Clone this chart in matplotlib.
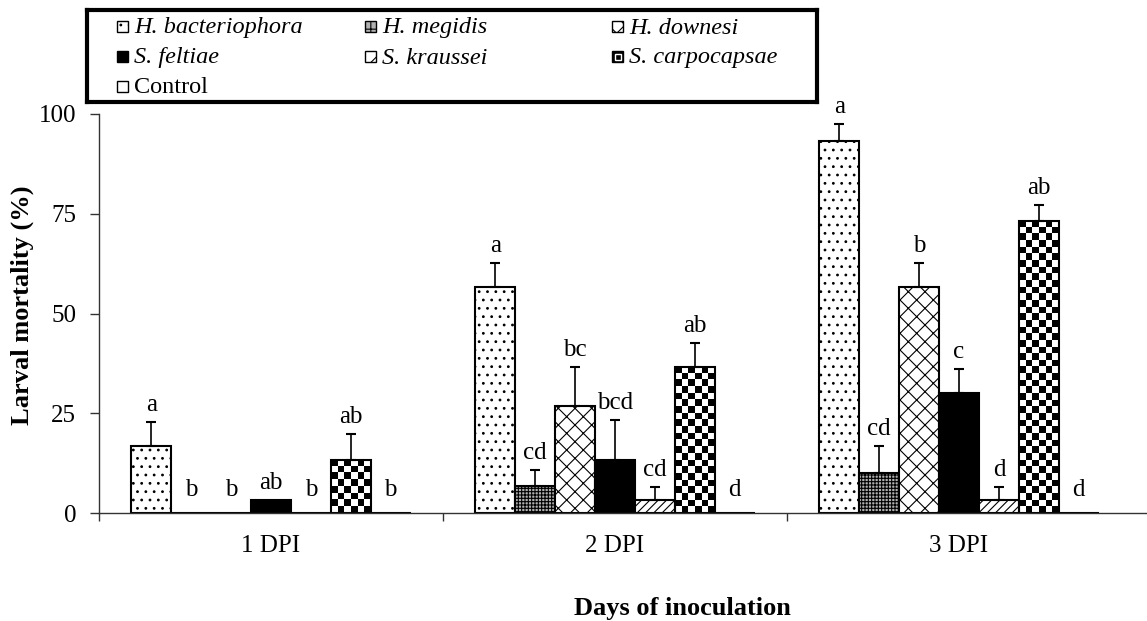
import numpy as np
import matplotlib.pyplot as plt
from matplotlib.patches import Rectangle

plt.rcParams['font.family'] = ['Liberation Serif', 'DejaVu Serif']
plt.rcParams['hatch.linewidth'] = 0.8

days = ['1 DPI', '2 DPI', '3 DPI']
names = ['H. bacteriophora', 'H. megidis', 'H. downesi', 'S. feltiae',
         'S. kraussei', 'S. carpocapsae', 'Control']

# mean mortality (%) per day
hbact = [16.7, 56.7, 93.3]
hmeg = [0.0, 6.7, 10.0]
hdown = [0.0, 26.7, 56.7]
sfelt = [3.3, 13.3, 30.0]
skrau = [0.0, 3.3, 3.3]
scarp = [13.3, 36.7, 73.3]
ctrl = [0.0, 0.0, 0.0]

# standard errors (upper only)
hbact_se = [6.0, 6.0, 4.2]
hmeg_se = [0.0, 4.0, 6.7]
hdown_se = [0.0, 10.0, 6.0]
sfelt_se = [0.0, 10.0, 6.0]
skrau_se = [0.0, 3.3, 3.3]
scarp_se = [6.5, 6.0, 4.0]
ctrl_se = [0.0, 0.0, 0.0]

# significance letters
hbact_lt = ['a', 'a', 'a']
hmeg_lt = ['b', 'cd', 'cd']
hdown_lt = ['b', 'bc', 'b']
sfelt_lt = ['ab', 'bcd', 'c']
skrau_lt = ['b', 'cd', 'd']
scarp_lt = ['ab', 'ab', 'ab']
ctrl_lt = ['b', 'd', 'd']

means = [hbact, hmeg, hdown, sfelt, skrau, scarp, ctrl]
ses = [hbact_se, hmeg_se, hdown_se, sfelt_se, skrau_se, scarp_se, ctrl_se]
letters = [hbact_lt, hmeg_lt, hdown_lt, sfelt_lt, skrau_lt, scarp_lt, ctrl_lt]

# fill styles: (facecolor, hatch, checkerboard)
styles = [('white', '..', False),
          ('#b0b0b0', '+++++', False),
          ('white', 'xx', False),
          ('black', None, False),
          ('white', '////', False),
          ('white', None, True),
          ('white', None, False)]

W, H = 1147, 621
fig = plt.figure(figsize=(W / 100, H / 100), dpi=100)
ax = fig.add_axes([99 / W, 1 - 513 / H, (W - 99) / W, 399 / H])
xmin, xmax = -0.5, -0.5 + (W - 99) / 344.0
ax.set_xlim(xmin, xmax)
ax.set_ylim(0, 100)
px_x = ax.bbox.width / (xmax - xmin)
px_y = ax.bbox.height / 100.0

bw = 0.116
x = np.arange(len(days))
sq = 6.7  # checker square, pixels

for j, (vals, err, lts, st) in enumerate(zip(means, ses, letters, styles)):
    pos = x + (j - 3) * bw
    face, hatch, check = st
    bars = ax.bar(pos, vals, bw, color='none' if check else face,
                  edgecolor='black', linewidth=1.5, hatch=hatch, zorder=2)
    if check:
        for b in bars:
            h = b.get_height()
            nc = max(1, int(round(b.get_width() * px_x / sq)))
            nr = max(1, int(round(h * px_y / sq)))
            board = (np.indices((nr, nc)).sum(axis=0) % 2).astype(float)
            ax.imshow(board, cmap='gray', vmin=0, vmax=1, aspect='auto',
                      interpolation='nearest', zorder=1.5,
                      extent=(b.get_x(), b.get_x() + b.get_width(), 0, h))
    err = np.array(err)
    vals = np.array(vals)
    m = err > 0
    if m.any():
        ax.errorbar(pos[m], vals[m], yerr=[np.zeros(m.sum()), err[m]],
                    fmt='none', ecolor='black', elinewidth=1.2, capsize=3.5,
                    capthick=1.5, zorder=3)
    for xi, v, e, lt in zip(pos, vals, err, lts):
        ax.text(xi, max(v + e + 1.5, 3.0), lt, ha='center', va='bottom',
                fontsize=18)

ax.set_xlim(xmin, xmax)
ax.set_ylim(0, 100)
ax.spines['top'].set_visible(False)
ax.spines['right'].set_visible(False)
for s in ('left', 'bottom'):
    ax.spines[s].set_linewidth(1.0)
    ax.spines[s].set_color('#333333')

ax.set_yticks([0, 25, 50, 75, 100])
ax.tick_params(axis='y', direction='out', length=6.5, width=1.0,
               labelsize=18, pad=10, color='#333333')
ax.set_xticks(x)
ax.set_xticklabels(days)
ax.set_xticks(np.arange(len(days)) - 0.5, minor=True)
ax.tick_params(axis='x', which='major', length=0, labelsize=18, pad=16)
ax.tick_params(axis='x', which='minor', direction='out', length=6,
               width=1.0, color='#333333')

fig.text(22 / W, 1 - 305 / H, 'Larval mortality (%)', rotation=90,
         ha='center', va='center', fontsize=19, fontweight='bold')
fig.text(682 / W, 1 - 608 / H, 'Days of inoculation', ha='center',
         va='center', fontsize=19, fontweight='bold')

# legend box
lax = fig.add_axes([87 / W, 1 - 102 / H, 730 / W, 92 / H])
lax.set_xlim(0, 730)
lax.set_ylim(92, 0)
lax.set_xticks([])
lax.set_yticks([])
for s in lax.spines.values():
    s.set_linewidth(3)
    s.set_color('black')

col_x = [30, 278, 525]
row_y = [16.5, 46.5, 76]
hs = 11
for j, (name, st) in enumerate(zip(names, styles)):
    cx = col_x[j % 3]
    cy = row_y[j // 3]
    face, hatch, check = st
    if check:
        lax.add_patch(Rectangle((cx, cy - hs / 2), hs, hs, facecolor='black',
                                edgecolor='black', lw=1))
        lax.add_patch(Rectangle((cx + 2.5, cy - hs / 2 + 2.5), hs - 5, hs - 5,
                                facecolor='black', edgecolor='white', lw=1))
    else:
        lax.add_patch(Rectangle((cx, cy - hs / 2), hs, hs, facecolor=face,
                                edgecolor='black', lw=1,
                                hatch=hatch[:2] if hatch else None))
    lax.text(cx + 17, cy + 7, name, va='baseline', ha='left', fontsize=17.5,
             style='normal' if name == 'Control' else 'italic')

fig.savefig('out.png', dpi=100)
